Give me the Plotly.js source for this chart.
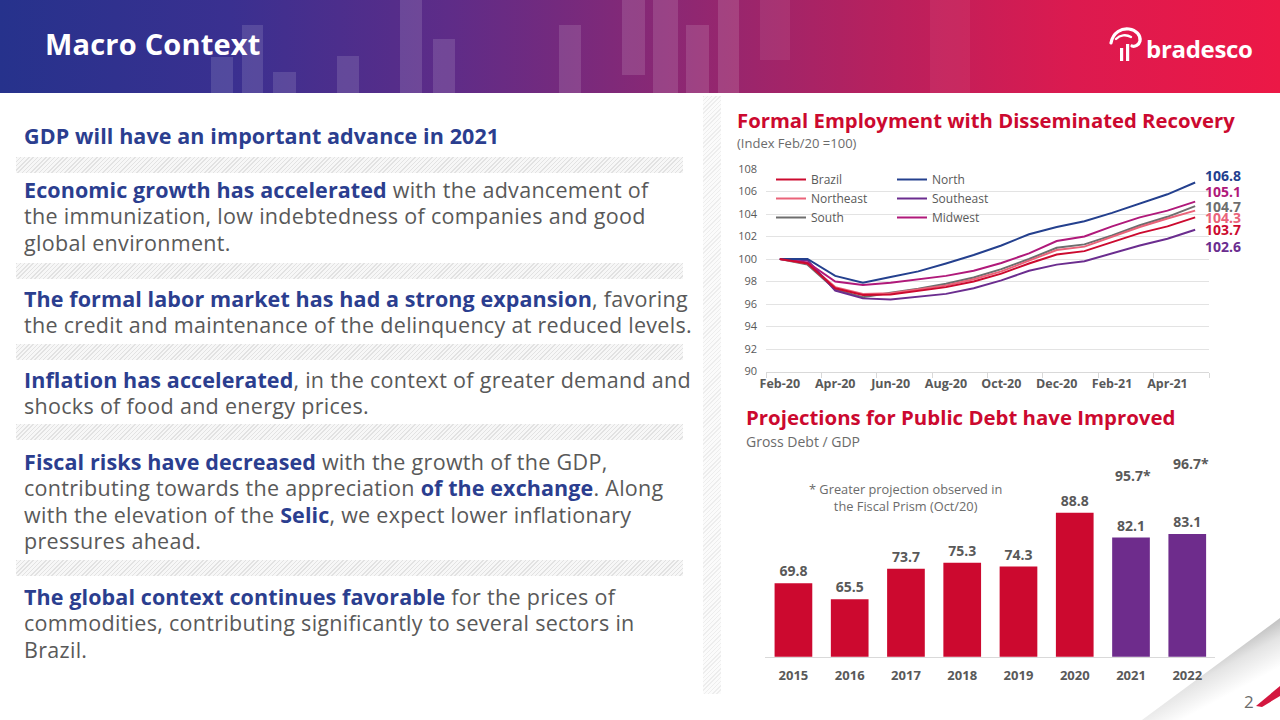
<!DOCTYPE html>
<html>
<head>
<meta charset="utf-8">
<script src="https://cdn.plot.ly/plotly-3.0.1.min.js"></script>
<style>
  html, body { margin:0; padding:0; background:#fff; }
  #page { position:relative; width:1280px; height:720px; overflow:hidden; background:#fff; font-family:'Open Sans', sans-serif; }
  #header { position:absolute; left:0; top:0; width:1280px; height:93px;
    background: linear-gradient(90deg, #26328c 0%, #3a3090 18%, #5e2c88 35%, #8a2874 52%, #b5215f 68%, #dc1a4f 84%, #ec1846 100%); overflow:hidden; }
  .deco { position:absolute; background:rgba(255,255,255,0.13); }
  #htitle { position:absolute; left:45px; top:24px; color:#fff; font-weight:700; font-size:29px; line-height:40px; letter-spacing:0.2px; }
  #logo { position:absolute; left:1108px; top:26px; }
  #logotext { position:absolute; left:1146px; top:33px; color:#fff; font-weight:700; font-size:24px; line-height:32px; letter-spacing:-0.3px; }
  .p { position:absolute; left:24px; font-size:21.5px; line-height:26.6px; color:#595959; white-space:nowrap; letter-spacing:0.3px; }
  .p b { color:#2b3e8f; font-weight:700; letter-spacing:0.1px; }
  .band { position:absolute; left:16px; width:667px; height:16px;
    background: repeating-linear-gradient(135deg, #e2e2e2 0px, #e2e2e2 1px, #f7f7f7 1px, #f7f7f7 3px); }
  #vband { position:absolute; left:703px; top:96px; width:18px; height:598px;
    background: repeating-linear-gradient(135deg, #ededed 0px, #ededed 1px, #fbfbfb 1px, #fbfbfb 3px); }
  #chart { position:absolute; left:0; top:0; width:1280px; height:720px; }
  #curl { position:absolute; left:1120px; top:600px; }
  #pagenum { position:absolute; left:1244px; top:690px; color:#6b6b6b; font-size:17px; line-height:24px; }
</style>
</head>
<body>
<div id="page">
  <div id="header">
    <div class="deco" style="left:211px;top:57px;width:22px;height:36px"></div>
    <div class="deco" style="left:242px;top:25px;width:21px;height:68px"></div>
    <div class="deco" style="left:273px;top:72px;width:23px;height:21px"></div>
    <div class="deco" style="left:337px;top:56px;width:22px;height:37px"></div>
    <div class="deco" style="left:400px;top:0px;width:22px;height:93px"></div>
    <div class="deco" style="left:433px;top:39px;width:22px;height:54px"></div>
    <div class="deco" style="left:559px;top:25px;width:22px;height:68px"></div>
    <div class="deco" style="left:622px;top:0px;width:23px;height:75px"></div>
    <div class="deco" style="left:653px;top:0px;width:25px;height:93px"></div>
    <div class="deco" style="left:686px;top:25px;width:23px;height:68px"></div>
    <div class="deco" style="left:718px;top:0px;width:21px;height:93px"></div>
    <div class="deco" style="left:760px;top:0px;width:30px;height:60px;background:rgba(255,255,255,0.07)"></div>
    <div class="deco" style="left:930px;top:0px;width:40px;height:93px;background:rgba(255,255,255,0.05)"></div>
    <div id="htitle">Macro Context</div>
    <svg id="logo" width="36" height="38" viewBox="0 0 36 38">
      <path d="M3,17 C5,6 14,2 21,3 C28,4 33,9 32,15 C31,19 27,21 24,20" fill="none" stroke="#fff" stroke-width="3.2" stroke-linecap="round"/>
      <path d="M8,13 C12,9 18,8 23,11" fill="none" stroke="#fff" stroke-width="2.4" stroke-linecap="round"/>
      <rect x="12" y="22" width="3.2" height="13" fill="#fff"/>
      <rect x="18" y="18" width="3.2" height="17" fill="#fff"/>
    </svg>
    <div id="logotext">bradesco</div>
  </div>

  <div class="p" style="top:122.6px"><b>GDP will have an important advance in 2021</b></div>
  <div class="band" style="top:157px"></div>
  <div class="p" style="top:176.6px"><b>Economic growth has accelerated</b> with the advancement of<br>the immunization, low indebtedness of companies and good<br>global environment.</div>
  <div class="band" style="top:263px"></div>
  <div class="p" style="top:285.6px"><b>The formal labor market has had a strong expansion</b>, favoring<br>the credit and maintenance of the delinquency at reduced levels.</div>
  <div class="band" style="top:344px"></div>
  <div class="p" style="top:366.6px"><b>Inflation has accelerated</b>, in the context of greater demand and<br>shocks of food and energy prices.</div>
  <div class="band" style="top:424px"></div>
  <div class="p" style="top:448.6px"><b>Fiscal risks have decreased</b> with the growth of the GDP,<br>contributing towards the appreciation <b>of the exchange</b>. Along<br>with the elevation of the <b>Selic</b>, we expect lower inflationary<br>pressures ahead.</div>
  <div class="band" style="top:560px"></div>
  <div class="p" style="top:583.6px"><b>The global context continues favorable</b> for the prices of<br>commodities, contributing significantly to several sectors in<br>Brazil.</div>
  <div id="vband"></div>

  <svg id="curl" width="160" height="120" viewBox="0 0 160 120">
    <defs>
      <linearGradient id="cg" x1="0.35" y1="0.45" x2="0.75" y2="1">
        <stop offset="0" stop-color="#bdbdbd"/>
        <stop offset="0.25" stop-color="#e4e4e4"/>
        <stop offset="0.6" stop-color="#ffffff"/>
      </linearGradient>
    </defs>
    <polygon points="22,120 160,18 160,120" fill="url(#cg)"/>
    <path d="M136,106 L160,86 L160,96 L142,107 Z" fill="#d3173f"/>
  </svg>
  <div id="pagenum">2</div>

  <div id="chart"></div>
</div>

<script>
// ---------- Data: formal employment index (Feb/20 = 100) ----------
const months = ['Feb-20','Mar-20','Apr-20','May-20','Jun-20','Jul-20','Aug-20','Sep-20','Oct-20','Nov-20','Dec-20','Jan-21','Feb-21','Mar-21','Apr-21','May-21'];
const brazil    = [100, 99.6, 97.4, 96.8, 96.85, 97.2, 97.5, 98.0, 98.7, 99.6, 100.4, 100.7, 101.5, 102.3, 102.9, 103.7];
const north     = [100, 100.0, 98.5, 97.9, 98.4, 98.9, 99.6, 100.35, 101.2, 102.2, 102.85, 103.35, 104.1, 104.95, 105.75, 106.8];
const northeast = [100, 99.6, 97.5, 96.9, 96.95, 97.3, 97.65, 98.2, 98.9, 99.85, 100.8, 101.1, 101.95, 102.85, 103.6, 104.3];
const southeast = [100, 99.9, 97.2, 96.5, 96.4, 96.65, 96.9, 97.4, 98.1, 98.95, 99.5, 99.8, 100.5, 101.2, 101.8, 102.6];
const south     = [100, 99.5, 97.3, 96.6, 97.0, 97.35, 97.8, 98.35, 99.1, 100.0, 101.0, 101.3, 102.1, 103.0, 103.75, 104.7];
const midwest   = [100, 99.7, 98.0, 97.7, 97.9, 98.2, 98.5, 98.95, 99.65, 100.5, 101.6, 102.0, 102.9, 103.7, 104.3, 105.1];
const seriesNames = ['Brazil','North','Northeast','Southeast','South','Midwest'];
const yTicks = [90, 92, 94, 96, 98, 100, 102, 104, 106, 108];

// ---------- Data: gross debt / GDP ----------
const years = ['2015','2016','2017','2018','2019','2020','2021','2022'];
const debt = [69.8, 65.5, 73.7, 75.3, 74.3, 88.8, 82.1, 83.1];
const debtKind = ['actual','actual','actual','actual','actual','actual','forecast','forecast'];
const fiscalPrismYears = ['2021','2022'];
const fiscalPrismValues = [95.7, 96.7];

// ---------- Styling ----------
const RED = '#cc092f', PURPLE = '#6e2c8c', GREY = '#595959';
const lineColors = {Brazil:'#cc0a2f', North:'#24408e', Northeast:'#ea6379', Southeast:'#6b2d8f', South:'#6e6e6e', Midwest:'#b0197a'};
const seriesData = {Brazil:brazil, North:north, Northeast:northeast, Southeast:southeast, South:south, Midwest:midwest};
const legendOf = {Brazil:'legend', Northeast:'legend', South:'legend', North:'legend2', Southeast:'legend2', Midwest:'legend2'};
const FONT = 'Open Sans, sans-serif';

const W = 1280, H = 720;
const px = x => x / W;
const py = y => 1 - y / H;

const traces = [];
// draw order (bottom to top)
['South','Northeast','Southeast','Midwest','North','Brazil'].forEach(name => {
  traces.push({
    type:'scatter', mode:'lines', name:name,
    x: months, y: seriesData[name],
    line:{color: lineColors[name], width:2},
    xaxis:'x', yaxis:'y',
    legend: legendOf[name],
    legendrank: seriesNames.indexOf(name),
    hoverinfo:'skip'
  });
});

traces.push({
  type:'bar', x: years, y: debt,
  marker:{color: debtKind.map(k => k === 'actual' ? RED : PURPLE)},
  text: debt.map(v => v.toFixed(1)),
  texttemplate:'<b>%{text}</b>',
  textposition:'outside', constraintext:'none', cliponaxis:false,
  textfont:{family:FONT, size:14, color:GREY},
  xaxis:'x2', yaxis:'y2', showlegend:false, hoverinfo:'skip'
});

// right-hand end labels of the line chart
const endLabelY = {North:175, Midwest:191.7, South:206.7, Northeast:217.3, Brazil:229, Southeast:246};
const annotations = [];
Object.keys(endLabelY).forEach(name => {
  const arr = seriesData[name];
  annotations.push({
    xref:'paper', yref:'paper', x: px(1203), y: py(endLabelY[name]),
    xanchor:'left', yanchor:'middle', showarrow:false,
    text:'<b>' + arr[arr.length-1].toFixed(1) + '</b>',
    font:{family:FONT, size:14, color: lineColors[name]}
  });
});

// Fiscal Prism projections (labels only) - category axis: position by index
const prismShift = [{xs:2, ys:11.5}, {xs:4, ys:20}];
fiscalPrismYears.forEach((yr, i) => {
  annotations.push({
    xref:'x2', yref:'y2', x: years.indexOf(yr), y: fiscalPrismValues[i],
    xanchor:'center', yanchor:'middle', showarrow:false,
    xshift: prismShift[i].xs, yshift: prismShift[i].ys,
    text:'<b>' + fiscalPrismValues[i].toFixed(1) + '*</b>',
    font:{family:FONT, size:14, color:GREY}
  });
});

// titles and notes
annotations.push(
  {xref:'paper', yref:'paper', x:px(735), y:py(120), xanchor:'left', yanchor:'middle', showarrow:false,
   text:'<b>Formal Employment with Disseminated Recovery</b>', font:{family:FONT, size:20.3, color:RED}},
  {xref:'paper', yref:'paper', x:px(735), y:py(143), xanchor:'left', yanchor:'middle', showarrow:false,
   text:'(Index Feb/20 =100)', font:{family:FONT, size:13, color:'#6b6b6b'}},
  {xref:'paper', yref:'paper', x:px(744), y:py(417), xanchor:'left', yanchor:'middle', showarrow:false,
   text:'<b>Projections for Public Debt have Improved</b>', font:{family:FONT, size:20.4, color:RED}},
  {xref:'paper', yref:'paper', x:px(744), y:py(441), xanchor:'left', yanchor:'middle', showarrow:false,
   text:'Gross Debt / GDP', font:{family:FONT, size:14, color:'#6b6b6b'}},
  {xref:'paper', yref:'paper', x:px(905), y:py(497), xanchor:'center', yanchor:'middle', showarrow:false, align:'center',
   text:'* Greater projection observed in<br>the Fiscal Prism (Oct/20)', font:{family:FONT, size:12.8, color:'#6b6b6b'}}
);

const layout = {
  width:W, height:H,
  margin:{l:0, r:0, t:0, b:0},
  paper_bgcolor:'rgba(0,0,0,0)', plot_bgcolor:'rgba(0,0,0,0)',
  font:{family:FONT, color:GREY},
  showlegend:true,
  xaxis:{
    domain:[px(766), px(1209)], anchor:'y',
    type:'category', categoryorder:'array', categoryarray: months,
    range:[-0.5, months.length - 0.5],
    tickmode:'linear', tick0:0, dtick:2, tickson:'boundaries', tickangle:0,
    ticks:'outside', ticklen:5, tickcolor:'#d9d9d9', tickwidth:1,
    showgrid:false, showline:true, linecolor:'#d9d9d9', linewidth:1,
    tickfont:{family:FONT, size:12.5, color:GREY, weight:700},
    fixedrange:true
  },
  yaxis:{
    domain:[py(371.5), py(169)], anchor:'x',
    range:[90, 108], tickmode:'array', tickvals: yTicks,
    showgrid:true, gridcolor:'#e3e3e3', gridwidth:1, zeroline:false, showline:false,
    ticks:'', ticklabelstandoff:8,
    tickfont:{family:FONT, size:11, color:GREY},
    fixedrange:true
  },
  xaxis2:{
    domain:[px(765.3), px(1215.4)], anchor:'y2',
    type:'category', categoryorder:'array', categoryarray: years,
    range:[-0.5, years.length - 0.5], tickangle:0,
    showgrid:false, showline:true, linecolor:'#d9d9d9', linewidth:1.5,
    ticks:'', ticklabelstandoff:6,
    tickfont:{family:FONT, size:13, color:GREY, weight:700},
    fixedrange:true
  },
  yaxis2:{
    domain:[py(656.7), py(452.65)], anchor:'x2',
    range:[50, 105], visible:false, fixedrange:true
  },
  bargap:0.33,
  legend:{x:px(771), y:py(165), xanchor:'left', yanchor:'top', orientation:'v',
          bgcolor:'rgba(0,0,0,0)', borderwidth:0, tracegroupgap:0, traceorder:'normal',
          font:{family:FONT, size:12, color:GREY}, itemwidth:30},
  legend2:{x:px(892), y:py(165), xanchor:'left', yanchor:'top', orientation:'v',
          bgcolor:'rgba(0,0,0,0)', borderwidth:0, tracegroupgap:0, traceorder:'normal',
          font:{family:FONT, size:12, color:GREY}, itemwidth:30},
  annotations: annotations
};

Plotly.newPlot('chart', traces, layout, {staticPlot:true, displayModeBar:false});
</script>
</body>
</html>
